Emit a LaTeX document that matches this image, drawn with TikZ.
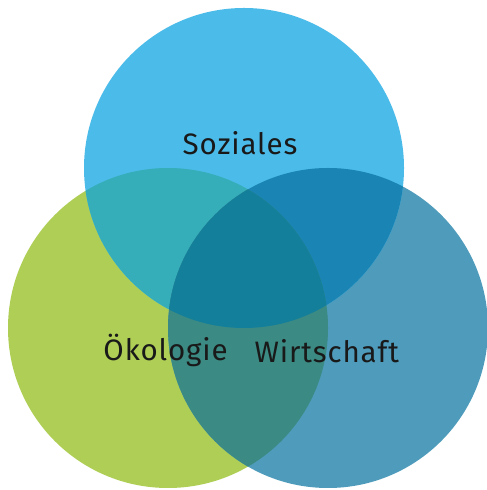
\documentclass[tikz,border=0pt]{standalone}
\usepackage{fontspec}
\setmainfont{Fira Sans}[LetterSpace=3]
\usetikzlibrary{positioning}
\definecolor{vSoz}{HTML}{4BBBE9}
\definecolor{vOek}{HTML}{AFCE55}
\definecolor{vWir}{HTML}{4E9BBB}
\definecolor{vSozOek}{HTML}{35AEB9}
\definecolor{vSozWir}{HTML}{1A85B5}
\definecolor{vOekWir}{HTML}{3B8A83}
\definecolor{vAll}{HTML}{137F9B}
\tikzset{
  every picture/.append style = {line width=0.7pt},
  lbl/.style = {font=\fontsize{21}{25}\selectfont, text=black!90},
}
\newcommand{\circSoz}{(6.1,8.05) circle (4.0)}
\newcommand{\circOek}{(4.2,4.05) circle (4.0)}
\newcommand{\circWir}{(8.2,4.05) circle (4.0)}

\begin{document}
\begin{tikzpicture}
  \useasboundingbox (0,0) rectangle (12.15,12.25);
  % the three circles
  \fill[vOek] \circOek;
  \fill[vWir] \circWir;
  \fill[vSoz] \circSoz;
  % pairwise overlaps
  \begin{scope}
    \clip \circSoz;
    \fill[vSozOek] \circOek;
    \fill[vSozWir] \circWir;
  \end{scope}
  \begin{scope}
    \clip \circOek;
    \fill[vOekWir] \circWir;
  \end{scope}
  % common centre
  \begin{scope}
    \clip \circSoz;
    \clip \circOek;
    \fill[vAll] \circWir;
  \end{scope}
  % labels
  \node[lbl] (soz) at (6.0,8.68) {Soziales};
  \node[lbl] (oek) at (4.14,3.48) {Ökologie};
  \node[lbl] (wir) at (8.17,3.48) {Wirtschaft};
\end{tikzpicture}
\end{document}
